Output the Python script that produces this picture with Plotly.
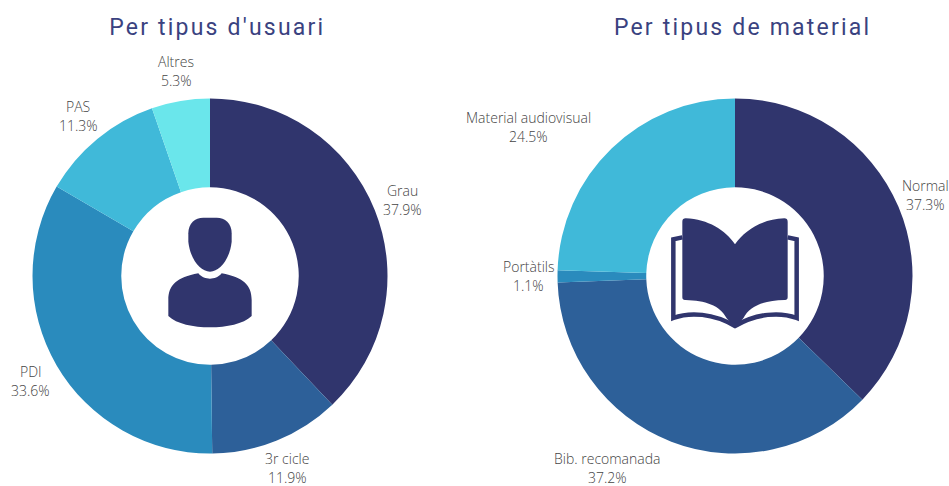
import re
import plotly.graph_objects as go

WIDTH = 949
HEIGHT = 486

# Per tipus d'usuari
user_labels = ["Grau", "3r cicle", "PDI", "PAS", "Altres"]
user_values = [37.9, 11.9, 33.6, 11.3, 5.3]
user_colors = ["#30356d", "#2d6099", "#2a8bbd", "#40b9d9", "#6ae6eb"]

# Per tipus de material
material_labels = ["Normal", "Bib. recomanada", "Portàtils", "Material audiovisual"]
material_values = [37.3, 37.2, 1.1, 24.5]
material_colors = ["#30356d", "#2d6099", "#2a8bbd", "#40b9d9"]

# pixel centres of each label block
user_label_pos = [(402, 200), (287, 468), (31, 381), (78, 116), (176, 71)]
material_label_pos = [(925, 195), (607, 468), (528, 276), (528, 127)]


def domain(cx, cy, r):
    return dict(x=[(cx - r) / WIDTH, (cx + r) / WIDTH],
                y=[1 - (cy + r) / HEIGHT, 1 - (cy - r) / HEIGHT])


def donut(labels, values, colors, cx, cy, r):
    return go.Pie(labels=labels, values=values, sort=False, direction="clockwise",
                  rotation=0, hole=0.5, textinfo="none", showlegend=False,
                  marker=dict(colors=colors, line=dict(width=0)),
                  domain=domain(cx, cy, r))


def icon_path(path, ox, oy):
    """Turn a path drawn on a 3x crop at (ox, oy) into paper coordinates"""
    nums = iter(re.findall(r"[A-Z]|-?\d+\.?\d*", path))
    out = []
    for tok in nums:
        if tok.isalpha():
            out.append(tok)
        else:
            px = ox + float(tok) / 3
            py = oy + float(next(nums)) / 3
            out.append(f"{px / WIDTH:.5f},{1 - py / HEIGHT:.5f}")
    return " ".join(out)


NAVY = "#30356d"

person = [
    "M 205 130 C 205 100 225 83 250 83 L 290 83 C 315 83 335 100 335 130 L 335 155 "
    "C 330 205 300 245 270 245 C 240 245 210 205 205 155 Z",
    "M 145 378 L 145 330 C 145 285 170 262 235 250 C 245 262 258 266 270 266 "
    "C 282 266 295 262 305 250 C 370 262 395 285 395 330 L 395 378 "
    "C 370 402 320 412 270 412 C 220 412 170 402 145 378 Z",
]
book_pages = ("M 112 95 C 112 88 116 85 122 85 C 190 88 240 120 270 163 "
              "C 300 120 350 88 418 85 C 424 85 428 88 428 95 L 428 322 C 428 328 424 331 418 330 "
              "C 360 332 315 345 295 385 L 270 412 L 245 385 "
              "C 225 345 180 332 122 330 C 116 331 112 328 112 322 Z")
book_cover = ("M 112 142 L 85 148 L 85 384 C 135 365 205 370 270 408 "
              "C 335 370 405 365 455 384 L 455 148 L 428 142")

shapes = []
for p in person:
    shapes.append(dict(type="path", xref="paper", yref="paper", path=icon_path(p, 120, 190),
                       fillcolor=NAVY, line=dict(width=0)))
shapes.append(dict(type="path", xref="paper", yref="paper", path=icon_path(book_pages, 645, 190),
                   fillcolor=NAVY, line=dict(width=0)))
shapes.append(dict(type="path", xref="paper", yref="paper", path=icon_path(book_cover, 645, 190),
                   line=dict(color=NAVY, width=4.5)))

annotations = []


def add_text(text, x, y, size, color, family, weight="normal"):
    annotations.append(dict(text=text, x=x / WIDTH, y=1 - y / HEIGHT, xref="paper", yref="paper",
                            xanchor="center", yanchor="middle", showarrow=False,
                            font=dict(size=size, color=color, family=family, weight=weight)))


for labels, values, positions in [(user_labels, user_values, user_label_pos),
                                  (material_labels, material_values, material_label_pos)]:
    for lab, val, pos in zip(labels, values, positions):
        add_text(lab, pos[0], pos[1] - 9.5, 14, "#444444", "Open Sans", 300)
        add_text(f"{val}%", pos[0], pos[1] + 9.5, 14, "#444444", "Open Sans", 300)

add_text("Per tipus d'usuari", 217, 27, 23, "#3a4280", "Roboto")
add_text("Per tipus de material", 742, 27, 23, "#3a4280", "Roboto")

fig = go.Figure([
    donut(user_labels, user_values, user_colors, 210, 276, 177.5),
    donut(material_labels, material_values, material_colors, 735, 276, 177.5),
])
fig.update_layout(width=WIDTH, height=HEIGHT, margin=dict(l=0, r=0, t=0, b=0),
                  paper_bgcolor="white", plot_bgcolor="white",
                  shapes=shapes, annotations=annotations)

# drop the page margin, and the titles are letter-spaced in the original
page_fix = """
document.body.style.margin = '0';
document.querySelectorAll('.annotation-text').forEach(function (t) {
    if (t.textContent.indexOf('Per tipus') === 0) { t.style.letterSpacing = '2.2px'; }
});
"""
fig.write_html("out.html", post_script=page_fix, config=dict(displayModeBar=False))
